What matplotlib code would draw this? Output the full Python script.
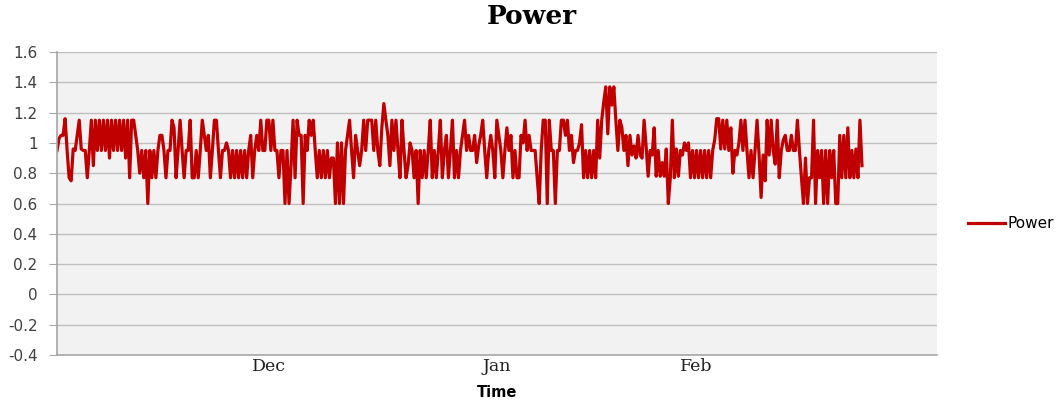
import numpy as np
import matplotlib
matplotlib.use("Agg")
import matplotlib.pyplot as plt

# power readings left to right
power_a = [0.95, 1.03, 1.05, 1.05, 1.16, 0.95, 0.77, 0.75, 0.96, 0.95, 1.05, 1.15, 0.96,
           0.95, 0.95, 0.77, 0.95,
           1.15, 0.85, 1.15, 0.95, 1.15, 0.95, 1.15, 0.95, 1.15, 0.9, 1.15, 0.95, 1.15,
           0.95, 1.15, 0.95, 1.15, 0.9, 1.15, 0.77, 1.15,
           1.15, 1.05, 0.95, 0.8, 0.95, 0.77, 0.95, 0.6, 0.95, 0.77, 0.95, 0.77, 0.95, 1.05]
power_b = [1.05, 0.95, 0.77, 0.95, 0.95, 1.15, 1.1, 0.77, 0.95, 1.15, 0.95, 0.77, 0.95,
           0.95, 1.15, 0.77, 0.77, 0.95, 0.77, 0.95, 1.15, 1.05, 0.95, 1.05, 0.77, 0.95,
           1.15, 1.15, 0.95, 0.77, 0.95, 0.95, 1.0, 0.95, 0.77, 0.95, 0.77, 0.95, 0.77,
           0.95, 0.77, 0.95, 0.77, 0.95, 1.05, 0.77, 0.95, 1.05, 0.95, 1.15, 0.95, 0.95]
power_c = [1.15, 1.15, 0.95, 1.15, 0.95, 0.95, 0.77, 0.95, 0.95, 0.6, 0.95, 0.6, 0.85,
           1.15, 0.77, 1.15, 1.05, 1.05, 0.6, 1.05, 0.95, 1.15, 1.05, 1.15, 0.95, 0.77,
           0.95, 0.77, 0.95, 0.77, 0.95, 0.77, 0.9, 0.9, 0.6, 1.0, 0.6, 1.0, 0.6, 0.95,
           1.05, 1.15, 0.95, 0.77, 1.05, 0.95, 0.85, 0.95, 1.15, 0.95, 1.15, 1.15]
power_d = [1.15, 0.95, 1.15, 0.95, 0.85, 1.1, 1.26, 1.15, 1.05, 0.85, 1.15, 0.95, 1.15,
           0.95, 0.77, 1.15, 0.95, 0.77, 0.85, 1.0, 0.95, 0.77, 0.95, 0.6, 0.95, 0.77,
           0.95, 0.77, 0.95, 1.15, 0.77, 0.95, 0.77, 0.95, 1.15, 0.77, 0.95, 1.05, 0.77,
           0.95, 1.15, 0.77, 0.95, 0.77, 0.95, 1.05, 1.15, 0.95, 1.05, 0.95, 0.95, 1.05]
power_e = [0.87, 0.98, 1.05, 1.15, 0.95, 0.77, 0.95, 1.05, 0.95, 0.77, 1.15, 1.05, 0.95,
           0.77, 0.95, 1.1, 0.95, 1.05, 0.77, 0.95, 0.77, 0.77, 1.05, 1.0, 1.15, 0.95,
           1.05, 0.95, 0.95, 0.95, 0.77, 0.6, 0.95, 1.15, 1.15, 0.6, 1.15, 0.95, 0.95,
           0.6, 0.95, 0.95, 1.15, 1.15, 1.05, 1.15, 0.95, 1.05, 0.87, 0.95, 0.95, 1.0]
power_f = [1.12, 0.77, 0.95, 0.77, 0.95, 0.77, 0.95, 0.77, 1.15, 0.9, 1.15, 1.27, 1.37,
           1.06, 1.37, 1.25, 1.37, 1.15, 0.95, 1.15, 1.1, 0.95, 1.05, 0.85, 1.05, 0.92,
           0.98, 0.9, 1.05, 0.92, 0.9, 1.15, 0.98, 0.78, 0.95, 0.92, 1.1, 0.78, 0.95,
           0.78, 0.87, 0.78, 0.96, 0.6, 0.77, 1.15, 0.77, 0.96, 0.78, 0.95, 0.92, 1.0]
power_g = [0.95, 1.0, 0.77, 0.95, 0.77, 0.95, 0.77, 0.95, 0.77, 0.95, 0.77, 0.95, 0.77,
           0.95, 1.02, 1.16, 1.16, 0.96, 1.15, 0.96, 1.15, 0.95, 1.1, 0.8, 0.95, 0.92,
           1.0, 1.15, 0.95, 1.15, 0.95, 0.77, 0.95, 0.77, 0.95, 1.15, 0.92, 0.64, 0.92,
           0.75, 1.15, 0.92, 1.15, 0.95, 0.86, 1.15, 0.77, 0.95, 1.02, 1.05, 0.95, 0.95]
power_h = [1.05, 0.95, 0.95, 1.15, 0.95, 0.77, 0.6, 0.9, 0.6, 0.77, 0.77, 1.15, 0.6,
           0.95, 0.77, 0.95, 0.6, 0.95, 0.6, 0.95, 0.77, 0.95, 0.6, 0.6, 1.05, 0.77,
           1.05, 0.77, 1.1, 0.77, 0.95, 0.77, 0.96, 0.77, 1.15, 0.85]

month_labels = ['Dec', 'Jan', 'Feb']
month_idx = [105, 218, 317]

power = np.array(power_a + power_b + power_c + power_d + power_e + power_f + power_g + power_h)
t = np.arange(len(power))

fig = plt.figure(figsize=(10.64, 4.08), dpi=100)
ax = fig.add_axes([0.0536, 0.1299, 0.8270, 0.7426])
ax.set_facecolor('#F2F2F2')

line, = ax.plot(t, power, color='#C00000', lw=2.3, label='Power')

ax.set_ylim(-0.4, 1.6)
ax.set_yticks(np.arange(-0.4, 1.61, 0.2))
ax.set_yticklabels(['-0.4', '-0.2', '0', '0.2', '0.4', '0.6', '0.8', '1', '1.2', '1.4', '1.6'],
                   fontsize=11, color='#404040')
ax.set_xlim(0, (len(power) - 1) * 880 / 805)
ax.set_xticks(month_idx)
ax.set_xticklabels(month_labels, family='DejaVu Serif', fontsize=12.5, color='#202020')
ax.tick_params(axis='x', length=0, pad=2)
ax.tick_params(axis='y', length=6, color='#A6A6A6', pad=8)

ax.grid(axis='y', color='#BFBFBF', lw=1)
ax.set_axisbelow(True)
for s in ['top', 'right']:
    ax.spines[s].set_visible(False)
for s in ['left', 'bottom']:
    ax.spines[s].set_color('#A6A6A6')
    ax.spines[s].set_linewidth(1.2)

ax.set_xlabel('Time', fontsize=10.5, fontweight='bold', labelpad=7)
fig.suptitle('Power', x=0.5, y=0.99, fontsize=19, fontweight='bold', family='DejaVu Serif')

fig.legend(handles=[line], loc='center left', bbox_to_anchor=(0.897, 0.452), frameon=False,
           fontsize=11, handlelength=2.4, handletextpad=0.15)

fig.savefig('out.png', dpi=100)
